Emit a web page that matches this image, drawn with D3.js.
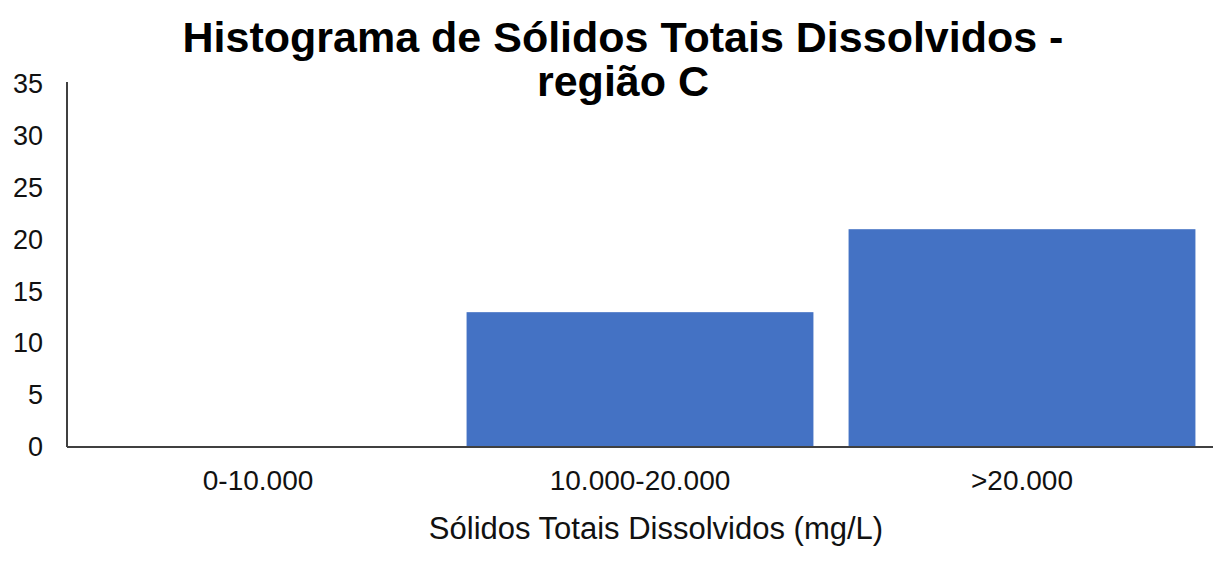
<!DOCTYPE html>
<html>
<head>
<meta charset="utf-8">
<script src="https://cdn.jsdelivr.net/npm/d3@7"></script>
<style>
  html, body { margin: 0; padding: 0; background: #fff; }
  svg { display: block; font-family: "Liberation Sans", Arial, sans-serif; }
</style>
</head>
<body>
<svg id="chart" width="1232" height="562"></svg>
<script>
const categories = ["0-10.000", "10.000-20.000", ">20.000"];
const counts = [0, 13, 21];
const yTicks = [0, 5, 10, 15, 20, 25, 30, 35];
const titleLines = ["Histograma de Sólidos Totais Dissolvidos -", "região C"];
const xTitle = "Sólidos Totais Dissolvidos (mg/L)";

const svg = d3.select("#chart");
const W = 1232, H = 562;
const margin = { left: 67, right: 19, top: 84, bottom: 115 };
const plotW = W - margin.left - margin.right;
const plotH = H - margin.top - margin.bottom;

const x = d3.scaleBand().domain(categories).range([0, plotW]).paddingInner(0.092).paddingOuter(0.046);
const y = d3.scaleLinear().domain([0, 35]).range([plotH, 0]);

const g = svg.append("g").attr("transform", `translate(${margin.left},${margin.top})`);

// bars
g.selectAll("rect.bar").data(categories).enter().append("rect")
  .attr("class", "bar")
  .attr("x", d => x(d))
  .attr("width", x.bandwidth())
  .attr("y", (d, i) => y(counts[i]))
  .attr("height", (d, i) => plotH - y(counts[i]))
  .attr("fill", "#4472C4");

// y axis
const yAxis = g.append("g").call(d3.axisLeft(y).tickValues(yTicks).tickSize(0).tickPadding(24));
yAxis.select(".domain").attr("stroke", "#404040").attr("stroke-width", 2)
  .attr("d", `M0,-2V${plotH}`);
yAxis.selectAll("text").attr("font-size", 27).attr("fill", "#111")
  .attr("font-family", "Liberation Sans, Arial, sans-serif");

// x axis
const xAxis = g.append("g").attr("transform", `translate(0,${plotH})`)
  .call(d3.axisBottom(x).tickSize(0).tickPadding(23));
xAxis.select(".domain").attr("stroke", "#404040").attr("stroke-width", 2)
  .attr("d", `M0,0H${plotW}`);
xAxis.selectAll("text").attr("font-size", 28).attr("fill", "#111")
  .attr("font-family", "Liberation Sans, Arial, sans-serif");

// x axis title
svg.append("text")
  .attr("x", 656)
  .attr("y", 539)
  .attr("text-anchor", "middle")
  .attr("font-size", 31)
  .attr("fill", "#111")
  .text(xTitle);

// chart title
const t = svg.append("text")
  .attr("text-anchor", "middle")
  .attr("font-size", 43)
  .attr("font-weight", "bold")
  .attr("fill", "#000");
titleLines.forEach((line, i) => {
  t.append("tspan").attr("x", 623).attr("y", 52 + i * 44).text(line);
});
</script>
</body>
</html>
